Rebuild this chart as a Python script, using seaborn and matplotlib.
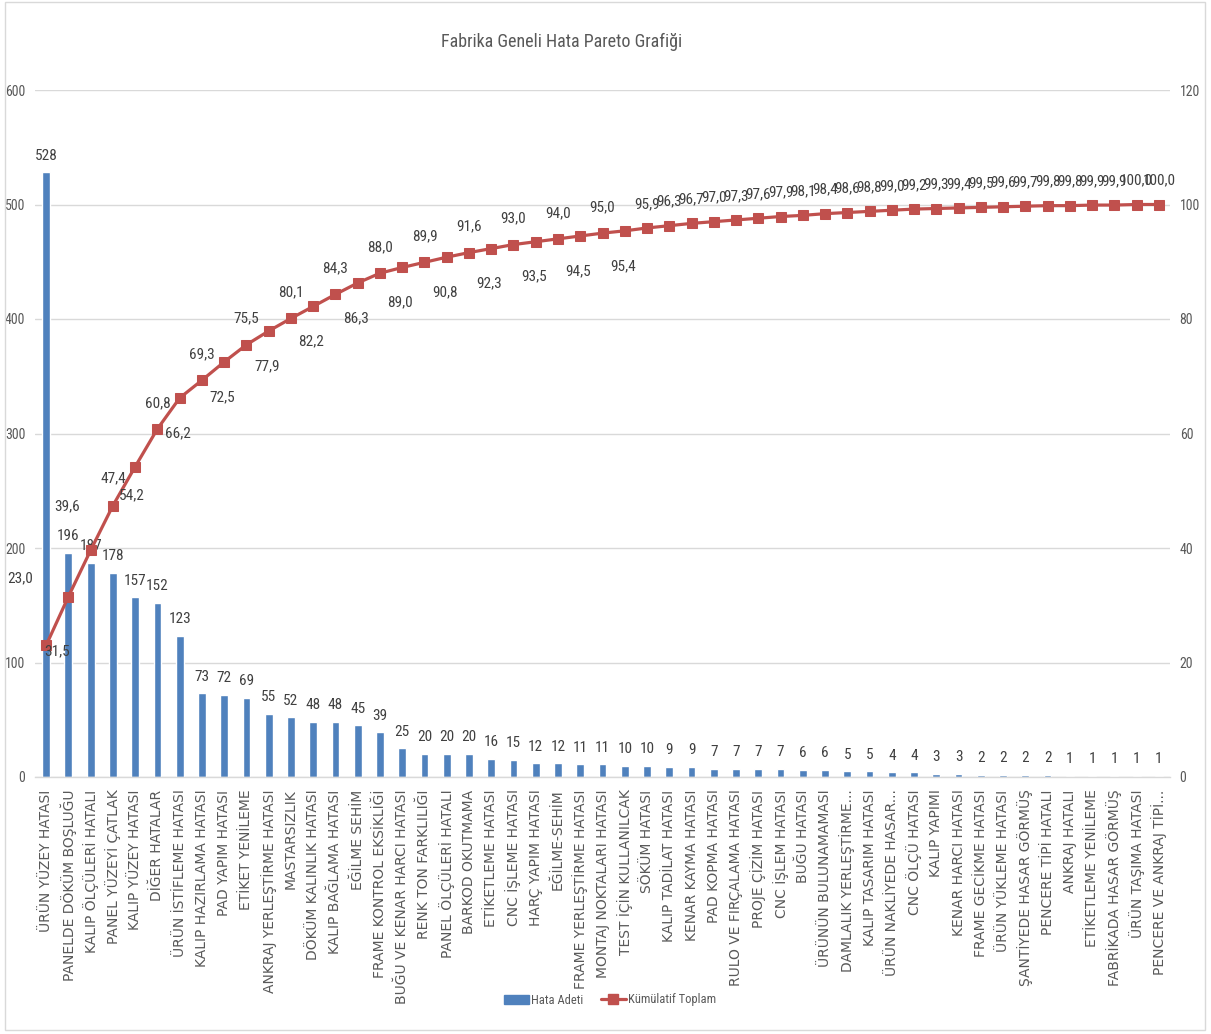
import numpy as np
import pandas as pd
import matplotlib
matplotlib.use("Agg")
import matplotlib.pyplot as plt
import seaborn as sns
from matplotlib import font_manager
from matplotlib.lines import Line2D
from matplotlib.patches import Patch, Rectangle

# Hata kategorileri (azalan sırada)
categories = [
    "ÜRÜN YÜZEY HATASI", "PANELDE DÖKÜM BOŞLUĞU", "KALIP ÖLÇÜLERİ HATALI",
    "PANEL YÜZEYİ ÇATLAK", "KALIP YÜZEY HATASI", "DİĞER HATALAR",
    "ÜRÜN İSTİFLEME HATASI", "KALIP HAZIRLAMA HATASI", "PAD YAPIM HATASI",
    "ETİKET YENİLEME", "ANKRAJ YERLEŞTİRME HATASI", "MASTARSIZLIK",
    "DÖKÜM KALINLIK HATASI", "KALIP BAĞLAMA HATASI", "EĞİLME SEHİM",
    "FRAME KONTROL EKSİKLİĞİ", "BUĞU VE KENAR HARCI HATASI", "RENK TON FARKLILIĞI",
    "PANEL ÖLÇÜLERİ HATALI", "BARKOD OKUTMAMA", "ETİKETLEME HATASI",
    "CNC İŞLEME HATASI", "HARÇ YAPIM HATASI", "EĞİLME-SEHİM",
    "FRAME YERLEŞTİRME HATASI", "MONTAJ NOKTALARI HATASI", "TEST İÇİN KULLANILCAK",
    "SÖKÜM HATASI", "KALIP TADİLAT HATASI", "KENAR KAYMA HATASI",
    "PAD KOPMA HATASI", "RULO VE FIRÇALAMA HATASI", "PROJE ÇİZİM HATASI",
    "CNC İŞLEM HATASI", "BUĞU HATASI", "ÜRÜNÜN BULUNAMAMASI",
    "DAMLALIK YERLEŞTİRME...", "KALIP TASARIM HATASI", "ÜRÜN NAKLİYEDE HASAR...",
    "CNC ÖLÇÜ HATASI", "KALIP YAPIMI", "KENAR HARCI HATASI",
    "FRAME GECİKME HATASI", "ÜRÜN YÜKLEME HATASI", "ŞANTİYEDE HASAR GÖRMÜŞ",
    "PENCERE TİPİ HATALI", "ANKRAJ HATALI", "ETİKETLEME YENİLEME",
    "FABRİKADA HASAR GÖRMÜŞ", "ÜRÜN TAŞIMA HATASI", "PENCERE VE ANKRAJ TİPİ...",
]

# Hata adetleri
hata_adeti = [
    528, 196, 187, 178, 157, 152, 123, 73, 72, 69,
    55, 52, 48, 48, 45, 39, 25, 20, 20, 20,
    16, 15, 12, 12, 11, 11, 10, 10, 9, 9,
    7, 7, 7, 7, 6, 6, 5, 5, 4, 4,
    3, 3, 2, 2, 2, 2, 1, 1, 1, 1, 1,
]

# Kümülatif yüzde (%)
kumulatif = [
    23.0, 31.5, 39.6, 47.4, 54.2, 60.8, 66.2, 69.3, 72.5, 75.5,
    77.9, 80.1, 82.2, 84.3, 86.3, 88.0, 89.0, 89.9, 90.8, 91.6,
    92.3, 93.0, 93.5, 94.0, 94.5, 95.0, 95.4, 95.9, 96.3, 96.7,
    97.0, 97.3, 97.6, 97.9, 98.1, 98.4, 98.6, 98.8, 99.0, 99.2,
    99.3, 99.4, 99.5, 99.6, 99.7, 99.8, 99.8, 99.9, 99.9, 100.0, 100.0,
]

sns.set_theme(style="white")

# Dar yazı tipi: varsa yoğunlaştırılmış bir aile, yoksa Liberation Sans
_mevcut = {f.name for f in font_manager.fontManager.ttflist}
DAR = next((ad for ad in ["Roboto Condensed", "Liberation Sans Narrow",
                          "Open Sans Condensed", "Liberation Sans"] if ad in _mevcut),
           "DejaVu Sans")
plt.rcParams["font.family"] = [DAR, "DejaVu Sans"]

BAR_BLUE = "#4F81BD"
LINE_RED = "#C0504D"
GRID = "#D9D9D9"
AXIS_TXT = "#595959"
VAL_TXT = "#404040"

W, H = 1211, 1034
df = pd.DataFrame({"kategori": categories, "adet": hata_adeti, "kumulatif": kumulatif})
df["konum"] = np.arange(len(df))
n = len(df)

fig = plt.figure(figsize=(W / 100, H / 100), dpi=100, facecolor="white")
ax = fig.add_axes([35 / W, 1 - 777 / H, 1135 / W, 687 / H])

sns.barplot(data=df, x="kategori", y="adet", color=BAR_BLUE, saturation=1,
            width=0.35, ax=ax, zorder=2)
ax.set_ylim(0, 600)
ax.set_yticks(range(0, 601, 100))
ax.set_xlim(-0.5, n - 0.5)
ax.set_xlabel("")
ax.set_ylabel("")
ax.yaxis.grid(True, color=GRID, linewidth=1)
ax.set_axisbelow(True)
for side in ["top", "left", "right"]:
    ax.spines[side].set_visible(False)
ax.spines["bottom"].set_color(GRID)
ax.spines["bottom"].set_linewidth(1)
ax.tick_params(axis="y", length=0, pad=7, labelsize=10, labelcolor=AXIS_TXT)
ax.tick_params(axis="x", length=0, pad=9)
ax.set_xticks(range(n))
ax.set_xticklabels(categories, rotation=90, fontsize=10, color=AXIS_TXT,
                   family=["DejaVu Sans"])

# Bar değer etiketleri
ax.bar_label(ax.containers[0], labels=[str(v) for v in hata_adeti], padding=7,
             fontsize=11, color=VAL_TXT)

# Kümülatif çizgi (ikincil eksen)
ax2 = ax.twinx()
sns.lineplot(data=df, x="konum", y="kumulatif", color=LINE_RED, marker="s",
             markersize=7, markeredgecolor=LINE_RED, linewidth=2.3, ax=ax2, zorder=3)
ax2.set_ylim(0, 120)
ax2.set_yticks(range(0, 121, 20))
ax2.set_xlim(-0.5, n - 0.5)
ax2.set_xlabel("")
ax2.set_ylabel("")
for side in ["top", "left", "right", "bottom"]:
    ax2.spines[side].set_visible(False)
ax2.tick_params(axis="y", length=0, pad=7, labelsize=10, labelcolor=AXIS_TXT)


def etiket_ofset(i):
    """Kümülatif etiketlerin nokta çevresindeki piksel kayması (dx, dy)."""
    ozel = {0: (-26, 67), 1: (-11, -55), 2: (-24, 44), 3: (0, 27), 4: (-3, -29)}
    if i in ozel:
        return ozel[i]
    if i >= 27:
        return (0, 24)
    return (0, 26) if i % 2 == 1 else (-2, -35)


px = 72 / 100
for i, v in enumerate(kumulatif):
    dx, dy = etiket_ofset(i)
    ax2.annotate(f"{v:.1f}".replace(".", ","), (i, v), xytext=(dx * px, dy * px),
                 textcoords="offset points", ha="center", va="center",
                 fontsize=11, color=VAL_TXT, zorder=4)

fig.text(562 / W, 1 - 42 / H, "Fabrika Geneli Hata Pareto Grafiği", ha="center",
         va="center", fontsize=13, color=AXIS_TXT)

handles = [
    Patch(facecolor=BAR_BLUE, edgecolor=BAR_BLUE),
    Line2D([0], [0], color=LINE_RED, linewidth=2.3, marker="s", markersize=7),
]
fig.legend(handles, ["Hata Adeti", "Kümülatif Toplam"], loc="center",
           bbox_to_anchor=(610 / W, 1 - 1000 / H), ncol=2, frameon=False,
           fontsize=9, labelcolor=AXIS_TXT, handlelength=2.0, handletextpad=0.15,
           columnspacing=1.4)

fig.patches.append(Rectangle((0.004, 0.004), 0.991, 0.994, transform=fig.transFigure,
                             fill=False, edgecolor=GRID, linewidth=1))

fig.savefig("out.png", dpi=100, facecolor="white")
